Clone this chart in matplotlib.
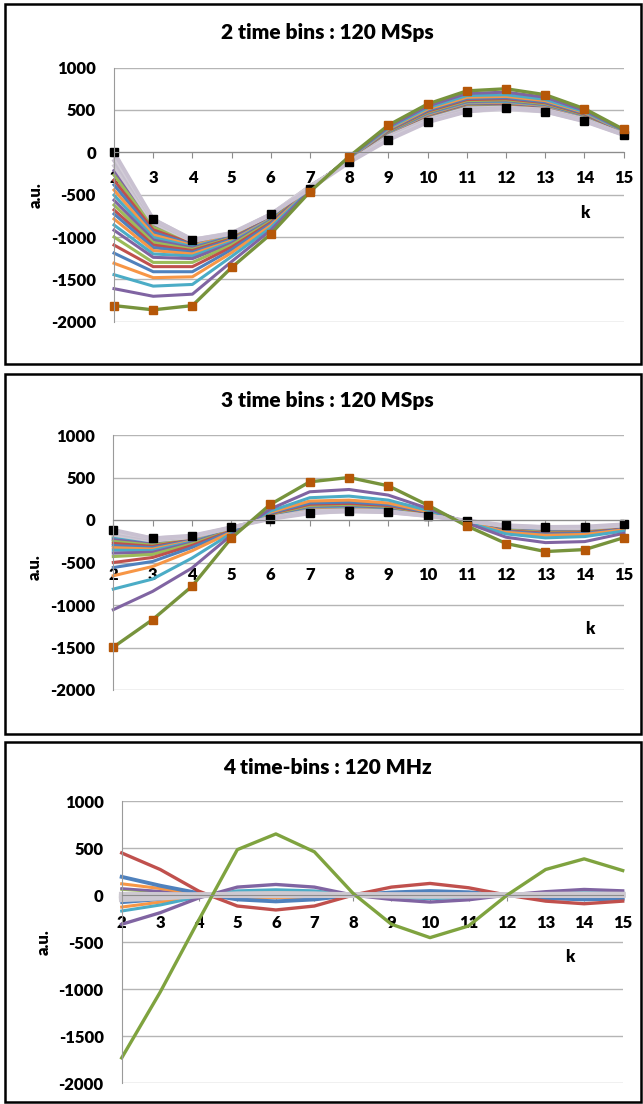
import matplotlib
matplotlib.use('Agg')
import matplotlib.pyplot as plt
from matplotlib.patches import Rectangle

plt.rcParams['font.family'] = ['Lato', 'DejaVu Sans']
plt.rcParams['axes.unicode_minus'] = False

# x categories and y axis
k = [2, 3, 4, 5, 6, 7, 8, 9, 10, 11, 12, 13, 14, 15]
y_ticks = [1000, 500, 0, -500, -1000, -1500, -2000]
y_labels = ['1000', '500', '0', '-500', '-1000', '-1500', '-2000']

# ---- panel 1 : 2 time bins ----
p1_outer = [-1810, -1860, -1810, -1360, -965, -465, -50, 320, 570, 725, 750, 680, 515, 270]
p1_mid = [
    [-1610, -1700, -1675, -1290, -920, -450, -60, 300, 545, 695, 710, 650, 495, 262],
    [-1445, -1580, -1560, -1230, -890, -440, -65, 285, 525, 670, 680, 625, 480, 255],
    [-1310, -1480, -1470, -1185, -865, -435, -70, 275, 510, 650, 660, 610, 470, 250],
    [-1190, -1410, -1410, -1150, -845, -430, -75, 265, 495, 635, 645, 595, 460, 245],
    [-1095, -1350, -1350, -1120, -830, -428, -78, 258, 485, 622, 632, 585, 452, 242],
    [-1000, -1300, -1300, -1095, -815, -425, -80, 250, 475, 610, 620, 575, 445, 238],
    [-920, -1240, -1255, -1075, -805, -422, -83, 244, 466, 600, 610, 566, 440, 235],
    [-858, -1200, -1225, -1060, -795, -420, -85, 238, 458, 592, 600, 560, 435, 232],
    [-787, -1160, -1200, -1045, -788, -418, -88, 232, 450, 585, 592, 553, 430, 230],
    [-728, -1125, -1180, -1030, -780, -416, -90, 228, 444, 578, 585, 547, 426, 228],
    [-680, -1095, -1160, -1020, -775, -414, -92, 224, 438, 572, 578, 542, 422, 226],
    [-622, -1065, -1145, -1010, -770, -412, -94, 220, 432, 566, 572, 537, 418, 224],
    [-565, -1035, -1130, -1000, -765, -410, -96, 216, 427, 561, 566, 532, 415, 222],
    [-505, -1005, -1115, -995, -760, -408, -98, 212, 422, 556, 561, 528, 412, 220],
    [-445, -975, -1100, -988, -755, -406, -100, 208, 417, 551, 556, 524, 409, 219],
    [-385, -945, -1090, -982, -752, -404, -102, 205, 412, 546, 551, 520, 406, 218],
    [-330, -915, -1080, -976, -749, -403, -104, 202, 407, 541, 547, 517, 403, 217],
    [-270, -885, -1070, -970, -746, -402, -106, 199, 402, 536, 543, 514, 400, 216],
    [-215, -860, -1060, -965, -743, -401, -108, 196, 397, 531, 539, 511, 397, 215],
]
p1_gray = [
    [-160, -835, -1050, -960, -740, -400, -110, 190, 390, 520, 530, 505, 392, 213],
    [-100, -810, -1040, -955, -735, -400, -112, 180, 380, 505, 520, 495, 385, 210],
    [-50, -790, -1030, -950, -730, -400, -115, 165, 365, 485, 505, 480, 370, 205],
]
p1_inner = [0, -790, -1030, -960, -730, -430, -120, 145, 355, 480, 525, 480, 365, 205]

# ---- panel 2 : 3 time bins ----
p2_outer = [-1496, -1172, -781, -215, 184, 449, 500, 402, 176, -70, -277, -371, -348, -207]
p2_mid = [
    [-1055, -840, -566, -180, 130, 332, 359, 293, 137, -35, -203, -266, -254, -156],
    [-813, -695, -449, -160, 105, 262, 281, 234, 115, -28, -164, -210, -195, -130],
    [-656, -547, -363, -145, 92, 223, 234, 200, 100, -22, -145, -180, -170, -115],
    [-559, -488, -324, -135, 82, 200, 212, 182, 92, -20, -135, -165, -158, -108],
    [-500, -441, -300, -128, 75, 185, 196, 170, 86, -18, -128, -155, -150, -103],
    [-430, -405, -282, -122, 68, 172, 183, 160, 80, -16, -120, -146, -142, -99],
    [-390, -380, -268, -117, 63, 162, 172, 151, 76, -15, -114, -139, -136, -95],
    [-355, -360, -257, -113, 58, 153, 163, 144, 72, -14, -108, -132, -130, -92],
    [-325, -342, -248, -110, 54, 146, 155, 138, 69, -13, -103, -126, -125, -88],
    [-300, -325, -240, -106, 50, 139, 148, 132, 66, -12, -98, -121, -120, -85],
    [-275, -310, -233, -103, 46, 133, 142, 127, 63, -11, -94, -116, -116, -82],
    [-252, -296, -226, -100, 43, 127, 136, 122, 61, -10, -90, -112, -112, -79],
    [-232, -284, -220, -98, 40, 122, 131, 118, 59, -10, -87, -108, -108, -76],
    [-212, -272, -214, -96, 37, 117, 126, 114, 57, -9, -84, -104, -105, -73],
    [-195, -260, -208, -94, 34, 112, 121, 110, 55, -9, -81, -100, -101, -70],
]
p2_gray = [
    [-175, -245, -202, -92, 30, 105, 115, 104, 52, -8, -77, -95, -97, -66],
    [-155, -230, -196, -90, 24, 96, 106, 98, 50, -7, -72, -90, -92, -62],
    [-135, -215, -190, -88, 18, 86, 96, 92, 48, -6, -66, -84, -86, -56],
]
p2_inner = [-117, -215, -184, -86, 12, 78, 109, 90, 47, -8, -62, -82, -78, -51]

# ---- panel 3 : 4 time-bins ----
p3_green = [-1730, -1030, -265, 483, 650, 460, 20, -310, -452, -328, 0, 272, 385, 261]
p3_red = [448, 272, 42, -116, -158, -116, 0, 85, 124, 78, 0, -64, -92, -64]
p3_blue = [194, 100, 20, -46, -67, -46, 0, 28, 43, 30, 0, -32, -46, -38]
p3_purple = [-310, -187, -30, 85, 113, 85, 0, -46, -74, -50, 0, 36, 60, 45]
p3_teal = [-169, -105, -18, 45, 57, 45, 0, -22, -38, -25, 0, 22, 33, 28]
p3_orange_a = [120, 70, 12, -20, -30, -22, 0, 15, 22, 15, 0, -15, -22, -18]
p3_orange_b = [-127, -75, -12, 22, 30, 22, 0, -12, -18, -12, 0, 12, 18, 15]
p3_green_b = [60, 35, 6, -12, -15, -12, 0, 8, 12, 8, 0, -8, -12, -10]
p3_purple_b = [70, 40, 7, -15, -20, -15, 0, 10, 14, 10, 0, -10, -14, -10]
p3_blue_b = [-81, -48, -8, 14, 18, 14, 0, -8, -12, -8, 0, 8, 12, 10]
p3_gray = [
    [-45, -28, -5, 10, 13, 10, 0, -6, -9, -6, 0, 5, 8, 6],
    [-20, -12, -2, 4, 6, 4, 0, -3, -5, -3, 0, 3, 5, 4],
    [5, 3, 0, -2, -3, -2, 0, 1, 2, 1, 0, -1, -2, -1],
]

palette = ['#8064A2', '#4BACC6', '#F79646', '#4F81BD', '#C0504D', '#9BBB59']
gray_cols = ['#CFC9D4', '#C6BFCD', '#D3CED8']
lavender = '#C9C1D1'

W, H = 643, 1104
fig = plt.figure(figsize=(6.43, 11.04), dpi=100)


def fx(px):
    return px / W


def fy(py):
    return 1 - py / H


def make_ax(left, right, top, bottom, label_pad):
    ax = fig.add_axes([fx(left), fy(bottom), fx(right) - fx(left), fy(top) - fy(bottom)])
    ax.set_xlim(2, 15)
    ax.set_ylim(-2000, 1000)
    ax.set_yticks(y_ticks)
    ax.set_yticklabels(y_labels)
    ax.set_xticks(k)
    ax.set_xticklabels([str(v) for v in k])
    ax.grid(axis='y', color='#B5B5B5', lw=1.0)
    ax.set_axisbelow(True)
    for s in ['top', 'right']:
        ax.spines[s].set_visible(False)
    ax.spines['left'].set_color('#9A9A9A')
    ax.spines['bottom'].set_position(('data', 0))
    ax.spines['bottom'].set_color('#8C8C8C')
    ax.tick_params(axis='y', length=0, pad=13, labelsize=12)
    ax.tick_params(axis='x', direction='out', length=4, color='#8C8C8C',
                   pad=label_pad, labelsize=12)
    for t in ax.get_xticklabels() + ax.get_yticklabels():
        t.set_fontweight('heavy')
    return ax


def fan(ax, outer, mid, gray, inner):
    for i in range(len(mid) - 1, -1, -1):
        ax.plot(k, mid[i], color=palette[i % 6], lw=2.2, clip_on=False)
    for i, g in enumerate(gray):
        ax.plot(k, g, color=gray_cols[i % 3], lw=2.6, clip_on=False)
    ax.plot(k, inner, color=lavender, lw=2.8, marker='s', ms=5.5,
            mfc='black', mec='black', clip_on=False)
    ax.plot(k, outer, color='#77933C', lw=2.4, marker='s', ms=5.5,
            mfc='#B65708', mec='#B65708', clip_on=False)


# panel borders
for top, bottom in [(4, 364), (374, 734), (742, 1102)]:
    fig.add_artist(Rectangle((fx(5), fy(bottom)), fx(641) - fx(5), fy(top) - fy(bottom),
                             transform=fig.transFigure, fill=False, lw=1.8, ec='black'))

ax1 = make_ax(114, 623.6, 67.6, 321.7, 9)
fan(ax1, p1_outer, p1_mid, p1_gray, p1_inner)

ax2 = make_ax(113.3, 624, 435, 690, 30)
fan(ax2, p2_outer, p2_mid, p2_gray, p2_inner)

ax3 = make_ax(121.7, 622.7, 801, 1083.3, 10)
ax3.plot(k, p3_green_b, color='#9BBB59', lw=2, clip_on=False)
ax3.plot(k, p3_purple_b, color='#8064A2', lw=2, clip_on=False)
ax3.plot(k, p3_blue_b, color='#4F81BD', lw=2, clip_on=False)
ax3.plot(k, p3_orange_a, color='#F79646', lw=2.2, clip_on=False)
ax3.plot(k, p3_orange_b, color='#F79646', lw=2.2, clip_on=False)
ax3.plot(k, p3_teal, color='#4BACC6', lw=2.2, clip_on=False)
ax3.plot(k, p3_blue, color='#4F81BD', lw=2.8, clip_on=False)
ax3.plot(k, p3_purple, color='#8064A2', lw=2.4, clip_on=False)
ax3.plot(k, p3_red, color='#C0504D', lw=2.4, clip_on=False)
for g in p3_gray:
    ax3.plot(k, g, color='#CDC9D1', lw=4, clip_on=False)
ax3.plot(k, p3_green, color='#7FA33F', lw=2.4, clip_on=False)

# titles and axis names
titles = ['2 time bins : 120 MSps', '3 time bins : 120 MSps', '4 time-bins : 120 MHz']
for t, ty in zip(titles, [32, 400, 768]):
    fig.text(fx(327), fy(ty), t, ha='center', va='center', fontsize=15, fontweight='heavy')
for ax_x, ax_y in [(36, 195), (35, 567), (44, 942)]:
    fig.text(fx(ax_x), fy(ax_y), 'a.u.', rotation=90, ha='center', va='center',
             fontsize=12, fontweight='heavy')
for kx, ky in [(585, 213), (590, 629), (570, 957)]:
    fig.text(fx(kx), fy(ky), 'k', ha='center', va='center', fontsize=12, fontweight='heavy')

fig.savefig('out.png', dpi=100)
